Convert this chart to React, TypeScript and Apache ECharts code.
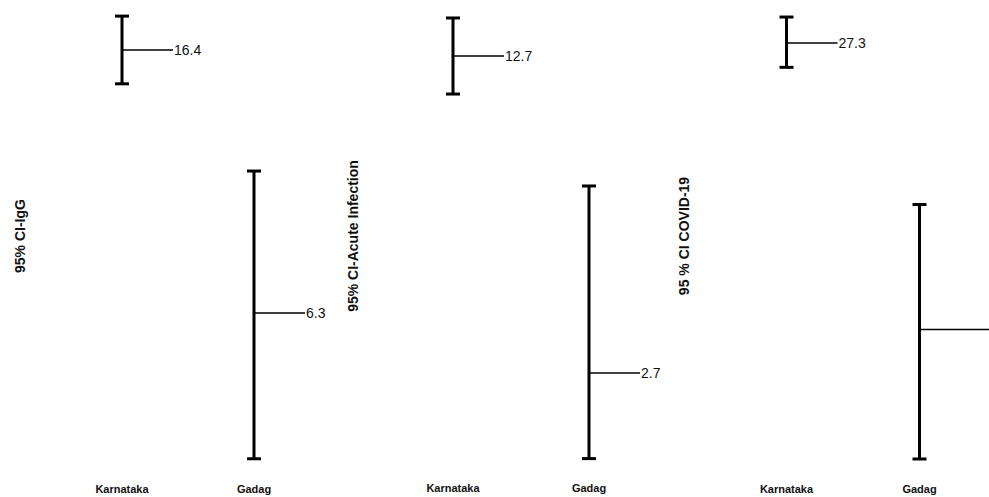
import React, { useEffect, useRef } from "react";
import * as echarts from "echarts";

const categories = ["Karnataka", "Gadag"];
const yTitles = ["95% CI-IgG", "95% CI-Acute Infection", "95 % CI COVID-19"];

const iggMid = [16.4, 6.3];
const iggLow = [15.1, 0.7];
const iggHigh = [17.7, 11.75];
const iggLabels = ["16.4", "6.3"];

const acuteMid = [12.7, 2.7];
const acuteLow = [11.5, 0];
const acuteHigh = [13.9, 8.6];
const acuteLabels = ["12.7", "2.7"];

const covidMid = [27.3, 8.5];
const covidLow = [25.7, 0];
const covidHigh = [29.0, 16.7];
const covidLabels = ["27.3", null];

const FONT = "'Liberation Sans', Arial, Helvetica, sans-serif";

const panels = [
  { mid: iggMid, low: iggLow, high: iggHigh, labels: iggLabels, max: 18 },
  { mid: acuteMid, low: acuteLow, high: acuteHigh, labels: acuteLabels, max: 14 },
  { mid: covidMid, low: covidLow, high: covidHigh, labels: covidLabels, max: 30 },
];

const gridLayout = [
  { left: 56, width: 264, top: 8.3, height: 468.7, labelMargin: 6, titleX: 20 },
  { left: 385, width: 272, top: 14.8, height: 443.8, labelMargin: 24, titleX: 353 },
  { left: 720, width: 266, top: 1.8, height: 457.2, labelMargin: 24, titleX: 684 },
];

export default function App() {
  const ref = useRef<HTMLDivElement>(null);
  useEffect(() => {
    if (!ref.current) return;
    const chart = echarts.init(ref.current, null, { renderer: "svg" });
    const option: any = {
      animation: false,
      backgroundColor: "#ffffff",
      grid: gridLayout.map((g) => ({ left: g.left, width: g.width, top: g.top, height: g.height })),
      xAxis: gridLayout.map((g, i) => ({
        type: "category",
        gridIndex: i,
        data: categories,
        boundaryGap: true,
        axisLine: { show: false },
        axisTick: { show: false },
        splitLine: { show: false },
        axisLabel: {
          margin: g.labelMargin,
          color: "#111",
          fontFamily: FONT,
          fontWeight: "bold",
          fontSize: 11,
        },
      })),
      yAxis: panels.map((p, i) => ({
        type: "value",
        gridIndex: i,
        min: 0,
        max: p.max,
        show: false,
      })),
      graphic: gridLayout.map((g, i) => ({
        type: "text",
        x: g.titleX,
        y: 236,
        rotation: Math.PI / 2,
        style: {
          text: yTitles[i],
          fill: "#111",
          font: `bold 14px ${FONT}`,
          align: "center",
          verticalAlign: "middle",
        },
      })),
      series: panels.map((p, i) => ({
        type: "custom",
        xAxisIndex: i,
        yAxisIndex: i,
        clip: false,
        data: categories.map((_, k) => [k, p.low[k], p.mid[k], p.high[k]]),
        renderItem: (params: any, api: any) => {
          const idx = api.value(0);
          const pLow = api.coord([idx, api.value(1)]);
          const pMid = api.coord([idx, api.value(2)]);
          const pHigh = api.coord([idx, api.value(3)]);
          const x = pMid[0];
          const cap = 7;
          const label = p.labels[params.dataIndex];
          const lineEnd = label == null ? api.getWidth() : x + 51;
          const stroke = { stroke: "#000", lineWidth: 3 };
          const children: any[] = [
            { type: "line", shape: { x1: x, y1: pHigh[1], x2: x, y2: pLow[1] }, style: stroke },
            { type: "line", shape: { x1: x - cap, y1: pHigh[1], x2: x + cap, y2: pHigh[1] }, style: stroke },
            { type: "line", shape: { x1: x - cap, y1: pLow[1], x2: x + cap, y2: pLow[1] }, style: stroke },
            {
              type: "line",
              shape: { x1: x, y1: pMid[1], x2: lineEnd, y2: pMid[1] },
              style: { stroke: "#000", lineWidth: 1.5 },
            },
          ];
          if (label != null) {
            children.push({
              type: "text",
              x: lineEnd + 1,
              y: pMid[1],
              style: {
                text: label,
                fill: "#111",
                font: `14px ${FONT}`,
                align: "left",
                verticalAlign: "middle",
              },
            });
          }
          return { type: "group", children };
        },
      })),
    };
    chart.setOption(option);
    return () => chart.dispose();
  }, []);
  return (
    <div
      ref={ref}
      style={{ position: "fixed", left: 0, top: 0, width: 989, height: 497, background: "#fff" }}
    />
  );
}
